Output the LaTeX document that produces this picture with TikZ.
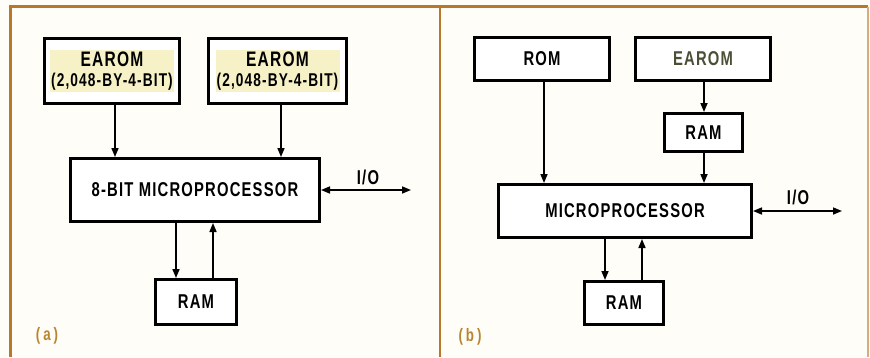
\documentclass[tikz,border=0pt]{standalone}
\usepackage{fontspec}
\usetikzlibrary{arrows.meta}
\newfontfamily\labfont{Liberation Sans}[FakeStretch=0.74,LetterSpace=6]
\definecolor{framec}{HTML}{B8782A}
\definecolor{tagc}{HTML}{B8862F}
\definecolor{bgc}{HTML}{FFFDF8}
\definecolor{earomfill}{HTML}{F6F1C6}
\definecolor{olivetext}{HTML}{4A5036}
\begin{document}
\begin{tikzpicture}[x=1pt,y=-1pt,
  blk/.style={draw=black,line width=3pt,fill=white,rectangle,inner sep=0pt,
    font=\labfont\bfseries\fontsize{20}{22}\selectfont},
  conn/.style={line width=1.6pt,-{Triangle[length=9pt,width=7pt]}},
  bidir/.style={line width=1.6pt,{Triangle[length=9pt,width=7pt]}-{Triangle[length=9pt,width=7pt]}},
  lbl/.style={inner sep=0pt,font=\labfont\bfseries\fontsize{20}{22}\selectfont},
  tag/.style={inner sep=0pt,text=tagc,font=\labfont\bfseries\fontsize{18}{20}\selectfont}]
\useasboundingbox (0,0) rectangle (870,357);
\fill[bgc] (0,0) rectangle (870,357);
% frame
\draw[framec,line width=3pt] (10,6.5) -- (868,6.5);
\draw[framec,line width=3pt] (10,5) -- (10,357);
\draw[framec,line width=2pt] (439.5,6.5) -- (439.5,357);
\draw[framec!60,line width=1.5pt] (868,6.5) -- (868,357);

% ---------- panel (a) ----------
\node[blk,minimum width=135pt,minimum height=65pt] (e1) at (112,71) {};
\node[lbl,fill=earomfill,minimum width=124pt,minimum height=42pt,align=center] (e1t) at (e1.center)
  {{\fontsize{21}{23}\selectfont EAROM}\\[-2pt]{\fontsize{18.5}{20}\selectfont (2,048-BY-4-BIT)}};
\node[blk,minimum width=138pt,minimum height=65pt] (e2) at (277.5,71) {};
\node[lbl,fill=earomfill,minimum width=124pt,minimum height=42pt,align=center] (e2t) at (e2.center)
  {{\fontsize{21}{23}\selectfont EAROM}\\[-2pt]{\fontsize{18.5}{20}\selectfont (2,048-BY-4-BIT)}};
\node[blk,minimum width=249pt,minimum height=63pt] (mpa) at (195,190) {8-BIT MICROPROCESSOR};
\node[blk,minimum width=81pt,minimum height=45pt] (rama) at (196,302) {RAM};
\coordinate (ioa) at (411,190);
\node[lbl] (ioatxt) at (368,177) {I/O};
\node[tag] (taga) at (47,336) {(\,a\,)};

\draw[conn] ([xshift=3pt]e1.south) -- ([xshift=3pt]e1.south |- mpa.north);
\draw[conn] ([xshift=3.5pt]e2.south) -- ([xshift=3.5pt]e2.south |- mpa.north);
\draw[conn] ([xshift=-19pt]mpa.south) -- ([xshift=-19pt]mpa.south |- rama.north);
\draw[conn] ([xshift=18pt]mpa.south |- rama.north) -- ([xshift=18pt]mpa.south);
\draw[bidir] (mpa.east) -- (ioa);

% ---------- panel (b) ----------
\node[blk,minimum width=135pt,minimum height=43pt] (rom) at (542,59) {ROM};
\node[blk,minimum width=135pt,minimum height=43pt,text=olivetext] (eb) at (703,59) {EAROM};
\node[blk,minimum width=78pt,minimum height=38pt] (ramt) at (703.5,132.5) {RAM};
\node[blk,minimum width=253pt,minimum height=53pt] (mpb) at (625,211) {MICROPROCESSOR};
\node[blk,minimum width=79pt,minimum height=43pt] (ramb) at (624,303) {RAM};
\coordinate (iob) at (842,211);
\node[lbl] (iobtxt) at (798,197) {I/O};
\node[tag] (tagb) at (470,337) {(\,b\,)};

\draw[conn] ([xshift=2pt]rom.south) -- ([xshift=2pt]rom.south |- mpb.north);
\draw[conn] ([xshift=1pt]eb.south) -- ([xshift=1pt]eb.south |- ramt.north);
\draw[conn] ([xshift=0.5pt]ramt.south) -- ([xshift=0.5pt]ramt.south |- mpb.north);
\draw[conn] ([xshift=-19pt]ramb.north |- mpb.south) -- ([xshift=-19pt]ramb.north);
\draw[conn] ([xshift=18pt]ramb.north) -- ([xshift=18pt]ramb.north |- mpb.south);
\draw[bidir] (mpb.east) -- (iob);
\end{tikzpicture}
\end{document}
